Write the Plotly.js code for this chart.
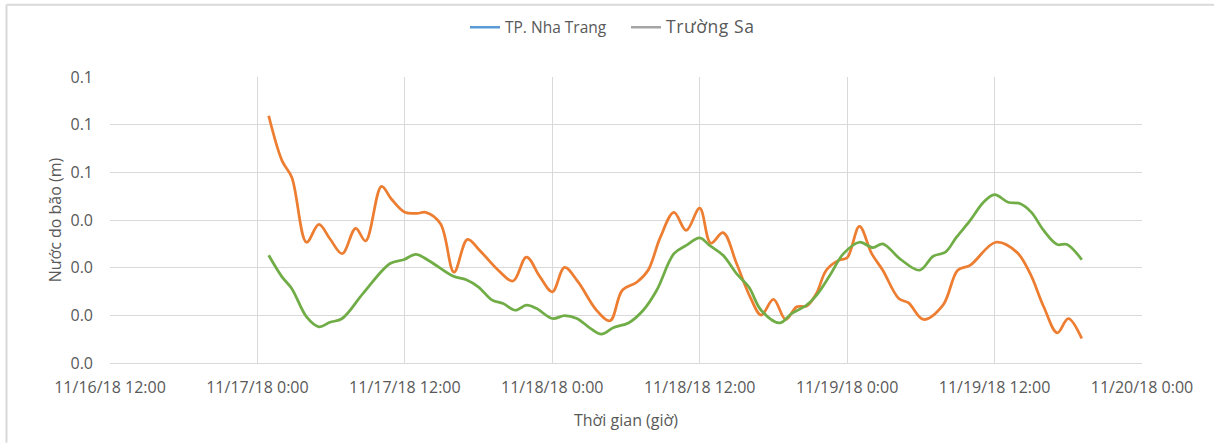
<!DOCTYPE html>
<html>
<head>
<meta charset="utf-8">
<script src="https://cdn.plot.ly/plotly-3.0.1.min.js"></script>
<style>
  html, body { margin: 0; padding: 0; background: #fff; }
  #chart { width: 1214px; height: 443px; }
</style>
</head>
<body>
<div id="chart"></div>
<script>
// ---- Data ----
const legendNames = ["TP. Nha Trang", "Trường Sa"];
const legendColors = ["#5B9BD5", "#A5A5A5"];

const orangeTimes = [
  "2018-11-17 00:55","2018-11-17 02:00","2018-11-17 02:48","2018-11-17 04:00","2018-11-17 05:00",
  "2018-11-17 05:54","2018-11-17 06:54","2018-11-17 08:00","2018-11-17 08:48","2018-11-17 10:06",
  "2018-11-17 10:54","2018-11-17 12:00","2018-11-17 13:00","2018-11-17 13:42","2018-11-17 14:54",
  "2018-11-17 16:00","2018-11-17 17:06","2018-11-17 18:06","2018-11-17 19:36","2018-11-17 20:48",
  "2018-11-17 21:54","2018-11-17 23:00","2018-11-18 00:00","2018-11-18 01:00","2018-11-18 02:06",
  "2018-11-18 03:36","2018-11-18 04:42","2018-11-18 05:42","2018-11-18 06:54","2018-11-18 07:48",
  "2018-11-18 08:48","2018-11-18 09:54","2018-11-18 10:54","2018-11-18 12:00","2018-11-18 12:54",
  "2018-11-18 13:54","2018-11-18 15:00","2018-11-18 16:06","2018-11-18 17:00","2018-11-18 18:00",
  "2018-11-18 19:00","2018-11-18 19:54","2018-11-18 20:42","2018-11-18 21:30","2018-11-18 22:18",
  "2018-11-18 23:18","2018-11-19 00:00","2018-11-19 01:00","2018-11-19 02:00","2018-11-19 02:54",
  "2018-11-19 04:12","2018-11-19 05:00","2018-11-19 06:12","2018-11-19 07:48","2018-11-19 09:00",
  "2018-11-19 10:00","2018-11-19 12:06","2018-11-19 13:48","2018-11-19 14:54","2018-11-19 16:00",
  "2018-11-19 17:06","2018-11-19 18:00","2018-11-19 19:06"
];
const orangeValues = [
  0.0778,0.0637,0.0584,0.0380,0.0436,
  0.0391,0.0344,0.0424,0.0384,0.0556,
  0.0516,0.0474,0.0471,0.0474,0.0438,
  0.0286,0.0389,0.0354,0.0292,0.0258,
  0.0333,0.0271,0.0224,0.0301,0.0255,
  0.0166,0.0133,0.0229,0.0255,0.0292,
  0.0396,0.0474,0.0417,0.0487,0.0377,
  0.0410,0.0313,0.0208,0.0151,0.0200,
  0.0137,0.0177,0.0179,0.0219,0.0292,
  0.0323,0.0331,0.0430,0.0344,0.0292,
  0.0203,0.0189,0.0137,0.0182,0.0292,
  0.0307,0.0380,0.0349,0.0281,0.0177,
  0.0095,0.0140,0.0077
];

const greenTimes = [
  "2018-11-17 00:55","2018-11-17 02:00","2018-11-17 02:48","2018-11-17 04:00","2018-11-17 05:00",
  "2018-11-17 05:54","2018-11-17 06:54","2018-11-17 08:36","2018-11-17 10:48","2018-11-17 11:54",
  "2018-11-17 12:54","2018-11-17 14:00","2018-11-17 15:54","2018-11-17 17:00","2018-11-17 18:00",
  "2018-11-17 19:06","2018-11-17 20:00","2018-11-17 21:00","2018-11-17 21:54","2018-11-17 22:42",
  "2018-11-18 00:00","2018-11-18 01:00","2018-11-18 02:00","2018-11-18 03:06","2018-11-18 04:00",
  "2018-11-18 05:00","2018-11-18 06:12","2018-11-18 07:24","2018-11-18 08:30","2018-11-18 09:54",
  "2018-11-18 10:54","2018-11-18 12:00","2018-11-18 12:48","2018-11-18 13:54","2018-11-18 15:00",
  "2018-11-18 16:00","2018-11-18 17:00","2018-11-18 18:30","2018-11-18 19:30","2018-11-18 20:42",
  "2018-11-18 21:30","2018-11-18 22:36","2018-11-18 23:42","2018-11-19 01:00","2018-11-19 02:06",
  "2018-11-19 02:54","2018-11-19 04:18","2018-11-19 05:54","2018-11-19 07:00","2018-11-19 08:00",
  "2018-11-19 08:54","2018-11-19 10:00","2018-11-19 11:06","2018-11-19 12:00","2018-11-19 13:06",
  "2018-11-19 14:06","2018-11-19 15:00","2018-11-19 16:00","2018-11-19 17:06","2018-11-19 17:54",
  "2018-11-19 19:06"
];
const greenValues = [
  0.0339,0.0271,0.0234,0.0145,0.0114,
  0.0128,0.0140,0.0219,0.0313,0.0325,
  0.0342,0.0321,0.0274,0.0262,0.0239,
  0.0198,0.0187,0.0166,0.0182,0.0172,
  0.0140,0.0149,0.0140,0.0109,0.0091,
  0.0112,0.0126,0.0166,0.0229,0.0344,
  0.0370,0.0394,0.0370,0.0339,0.0281,
  0.0239,0.0166,0.0126,0.0156,0.0182,
  0.0213,0.0276,0.0344,0.0380,0.0363,
  0.0375,0.0328,0.0292,0.0336,0.0349,
  0.0396,0.0448,0.0506,0.0530,0.0506,
  0.0501,0.0474,0.0417,0.0373,0.0373,
  0.0325
];

const yTickValues = [0, 0.015, 0.03, 0.045, 0.06, 0.075, 0.09];
const yTickLabels = ["0.0","0.0","0.0","0.0","0.1","0.1","0.1"];
const xRange = ["2018-11-16 12:00", "2018-11-20 00:00"];
const xTitle = "Thời gian (giờ)";
const yTitle = "Nước do bão (m)";

// ---- Traces ----
const traces = [
  { x: orangeTimes, y: orangeValues, type: "scatter", mode: "lines",
    line: { color: "#ED7D31", width: 2.75, shape: "spline", smoothing: 1 },
    showlegend: false, hoverinfo: "skip" },
  { x: greenTimes, y: greenValues, type: "scatter", mode: "lines",
    line: { color: "#70AD47", width: 2.75, shape: "spline", smoothing: 1 },
    showlegend: false, hoverinfo: "skip" },
  { x: [null], y: [null], type: "scatter", mode: "lines", name: legendNames[0],
    line: { color: legendColors[0], width: 2.5 }, hoverinfo: "skip" },
  { x: [null], y: [null], type: "scatter", mode: "lines",
    name: '<span style="font-size:17.5px;letter-spacing:0.6px">' + legendNames[1] + '</span>',
    line: { color: legendColors[1], width: 2.5 }, hoverinfo: "skip" }
];

const tickFont = { family: "Open Sans, sans-serif", size: 16, color: "#595959" };

const layout = {
  width: 1214, height: 443,
  margin: { l: 110, r: 72, t: 76, b: 80, pad: 0 },
  paper_bgcolor: "#ffffff", plot_bgcolor: "#ffffff",
  font: tickFont,
  showlegend: true,
  legend: {
    orientation: "h", x: (473 - 110 - 8) / 1032, xanchor: "left", y: 1.2275, yanchor: "top",
    font: { family: "Open Sans, sans-serif", size: 15.5, color: "#595959" },
    itemwidth: 30, entrywidth: 116, tracegroupgap: 0, bgcolor: "rgba(0,0,0,0)"
  },
  xaxis: {
    type: "date", range: xRange,
    tick0: "2018-11-16 12:00", dtick: 43200000, tickformat: "%m/%d/%y %-H:%M",
    showgrid: true, gridcolor: "#d9d9d9", gridwidth: 1,
    zeroline: false, showline: true, linecolor: "#d9d9d9", linewidth: 1,
    ticks: "", ticklabelstandoff: 10, tickfont: tickFont,
    title: { text: xTitle, font: tickFont, standoff: 17 },
    fixedrange: true
  },
  yaxis: {
    range: [0, 0.09], tickmode: "array", tickvals: yTickValues, ticktext: yTickLabels,
    showgrid: true, gridcolor: "#d9d9d9", gridwidth: 1,
    zeroline: false, showline: false,
    ticks: "", ticklabelstandoff: 16, tickfont: tickFont,
    title: { text: yTitle, font: tickFont, standoff: 4 },
    fixedrange: true
  },
  shapes: [
    { type: "line", xref: "paper", yref: "paper",
      x0: (6.5 - 110) / 1032, x1: (1214 - 110) / 1032,
      y0: (363 - 3.5) / 287, y1: (363 - 3.5) / 287,
      line: { color: "#d9d9d9", width: 2 } },
    { type: "line", xref: "paper", yref: "paper",
      x0: (6.5 - 110) / 1032, x1: (6.5 - 110) / 1032,
      y0: (363 - 3.5) / 287, y1: (363 - 443) / 287,
      line: { color: "#d9d9d9", width: 2 } }
  ]
};

Plotly.newPlot("chart", traces, layout, { displayModeBar: false, staticPlot: true });
</script>
</body>
</html>
